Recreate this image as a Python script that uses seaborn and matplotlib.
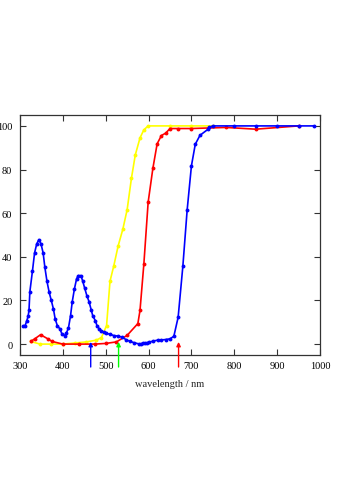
import matplotlib
matplotlib.use("Agg")
import matplotlib.pyplot as plt
import seaborn as sns
import pandas as pd

# Transmission spectra (%) of three filters
blue_wl = [307, 312, 316, 319, 321, 323, 329, 334, 339, 344, 349, 354, 358, 363, 368,
           373, 378, 382, 387, 393, 398, 404, 408, 413, 418, 422, 427, 432, 436, 442,
           446, 451, 456, 461, 466, 470, 476, 480, 485, 490, 495, 500, 509, 519, 528,
           538, 547, 557, 567, 577, 582, 586, 592, 596, 602, 611, 621, 630, 640, 650,
           659, 669, 680, 690, 700, 709, 720, 739, 741, 750, 800, 850, 900, 950, 987]
blue_t = [8.4, 8.5, 10.8, 12.8, 15.5, 24.0, 33.4, 41.8, 45.9, 47.9, 45.9, 41.8, 35.2, 28.7, 23.8,
          20.0, 16.1, 11.6, 8.5, 7.0, 4.6, 3.9, 5.0, 7.3, 13.1, 19.5, 25.3, 29.9, 31.4, 31.4,
          29.1, 25.6, 22.2, 19.5, 15.8, 12.8, 10.7, 8.2, 7.0, 6.1, 5.5, 4.9, 4.6, 3.9, 3.7,
          3.2, 2.1, 1.2, 0.6, 0.1, 0.1, 0.3, 0.4, 0.6, 0.9, 1.4, 1.8, 1.9, 2.1, 2.4,
          3.6, 12.3, 35.7, 61.4, 81.7, 91.6, 95.7, 98.5, 99.3, 100, 100, 100, 100, 100, 100]

red_wl = [325, 335, 348, 365, 375, 400, 437, 475, 500, 525, 550, 575, 580, 589, 599,
          610, 620, 630, 640, 650, 669, 699, 781, 850, 950]
red_t = [1.2, 2.5, 4.3, 2.4, 1.2, 0.0, 0.0, 0.0, 0.3, 1.0, 4.0, 9.4, 15.4, 36.7, 65.0,
         80.5, 91.8, 95.6, 96.7, 98.8, 98.8, 98.8, 99.3, 98.5, 100]

yellow_wl = [325, 347, 373, 400, 428, 455, 478, 490, 502, 510, 519, 529, 540, 550, 560,
             569, 580, 589, 599, 650, 700, 750]
yellow_t = [1.2, 0.0, 0.0, 0.0, 0.5, 1.0, 1.8, 3.0, 8.5, 28.8, 36.0, 45.0, 52.7, 61.6, 76.0,
            86.7, 94.5, 98.2, 100, 100, 100, 100]

# Excitation wavelengths marked below the axis
arrow_wl = [465, 530, 670]
arrow_colors = ["#0000ff", "#00ff00", "#ff0000"]

sns.set_style("ticks")
plt.rcParams["font.family"] = ["Liberation Serif", "DejaVu Serif"]

fig = plt.figure(figsize=(3.37, 4.81), dpi=100)
ax = fig.add_axes([20 / 337, 125 / 481, 300 / 337, 240 / 481])

series = [
    (yellow_wl, yellow_t, "#ffff00"),
    (red_wl, red_t, "#ff0000"),
    (blue_wl, blue_t, "#0000ff"),
]
for wl, t, col in series:
    df = pd.DataFrame({"wl": wl, "t": t})
    sns.lineplot(data=df, x="wl", y="t", ax=ax, color=col, lw=1.2, sort=False,
                 marker="o", markersize=2.8, markeredgewidth=0, markerfacecolor=col)

ax.set_xlim(300, 1000)
ax.set_ylim(-5, 105)
ax.set_xticks(range(300, 1001, 100))
ax.set_yticks(range(0, 101, 20))
ax.set_xlabel("wavelength / nm", fontsize=7.5, labelpad=6.5)
ax.set_ylabel("")
ax.tick_params(direction="in", length=4, width=0.8, labelsize=7.5, pad=4,
               top=True, right=True, colors="#333333", labelcolor="black")
ax.tick_params(axis="y", pad=5.5)
for s in ax.spines.values():
    s.set_color("#333333")
    s.set_linewidth(0.9)

for wl, col in zip(arrow_wl, arrow_colors):
    ax.annotate("", xy=(wl, 1.0), xytext=(wl, -10.5), annotation_clip=False,
                arrowprops=dict(arrowstyle="-|>", color=col, lw=1.0,
                                mutation_scale=6, shrinkA=0, shrinkB=0))

fig.savefig("out.png", dpi=100)
